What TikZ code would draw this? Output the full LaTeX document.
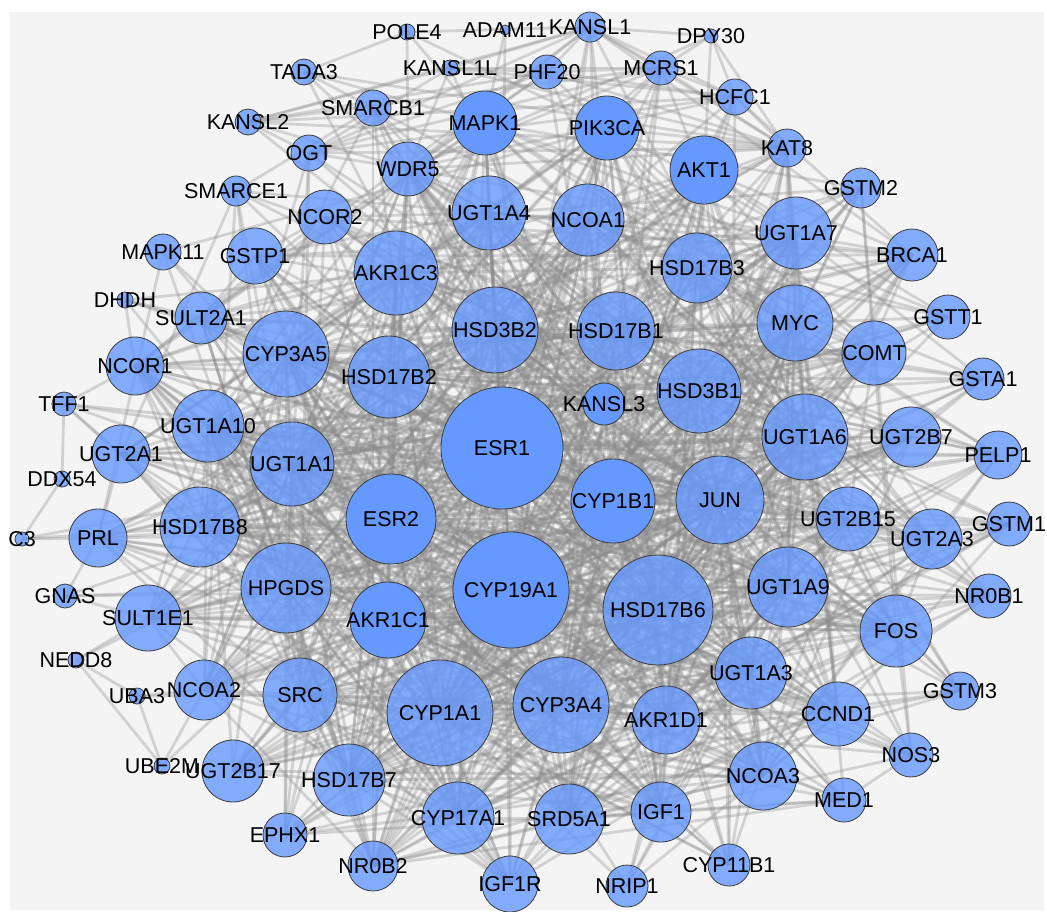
\documentclass[tikz,border=0pt]{standalone}
\usepackage{fontspec}
\setmainfont{Liberation Sans}
\pgfdeclarelayer{bg}
\pgfdeclarelayer{edges}
\pgfsetlayers{bg,edges,main}
\definecolor{nodeblue}{HTML}{6699FF}
\definecolor{nodeline}{HTML}{3C3C3C}
\definecolor{edgegray}{HTML}{8A8A8A}
\definecolor{panel}{HTML}{F4F4F4}
\tikzset{
  gene/.style={circle, draw=nodeline, line width=0.8pt, fill=nodeblue, inner sep=0pt},
  genelabel/.style={font=\fontsize{21.5}{21.5}\selectfont, inner sep=0pt, text=black},
  link/.style={draw=edgegray, line width=2.8pt, draw opacity=0.32},
}
\begin{document}
\begin{tikzpicture}[x=1pt,y=-1pt]
\useasboundingbox (0,0) rectangle (1047,911);
\begin{pgfonlayer}{bg}
\fill[white] (0,0) rectangle (1047,911);
\fill[panel] (10,12) rectangle (1044,910);
\end{pgfonlayer}
\def\genelist{ESR1/502/448/61/1, CYP19A1/511/590/58/1, HSD17B6/658/610/55/.8,
CYP1A1/440/713/53/.8, CYP3A4/561/705/48/.8, ESR2/391/519/45/1, HPGDS/286/588/45/.8,
JUN/720/500/44/.8, HSD3B2/495/330/43/.8, UGT1A6/805/437/43/.8, AKR1C3/396/273/42/.8,
UGT1A1/292/464/42/.8, CYP1B1/613/501/42/1, HSD3B1/699/391/42/.8, CYP3A5/286/354/43/.8,
HSD17B2/389/377/41/.8, HSD17B8/200/527/40/.8, UGT1A9/788/587/40/.8, HSD17B1/616/331/39/.8,
AKR1C1/388/620/38/1, MYC/795/323/38/.8, UGT1A4/489/213/37/.8, SRC/300/695/37/.8,
UGT1A10/208/426/36/.8, NCOA1/588/220/36/.8, UGT1A7/796/233/36/.8, UGT1A3/751/673/36/.8,
FOS/896/631/36/.8, HSD17B7/349/780/36/.8, CYP17A1/458/818/36/.8, HSD17B3/697/268/35/.8,
SRD5A1/569/819/35/.8, AKT1/704/170/34/1, AKR1D1/666/720/34/.8, NCOA3/763/776/34/.8,
SULT1E1/148/618/33/.8, MAPK1/485/123/32/1, PIK3CA/607/128/32/1, COMT/874/353/32/.8,
UGT2B15/848/519/32/.8, CCND1/838/714/32/.8, UGT2B17/233/771/31/.8, NCOA2/204/690/30/.8,
UGT2B7/911/437/30/.8, UGT2A3/932/539/30/.8, IGF1/661/812/30/.8, NCOR1/135/366/29/.8,
UGT2A1/121/454/29/.8, PRL/98/538/29/.8, GSTP1/255/256/28/.8, IGF1R/510/884/28/.8,
WDR5/408/169/27/.8, NCOR2/325/217/27/.8, SULT2A1/201/318/26/.8, BRCA1/912/255/26/.8,
NR0B2/373/866/25/.8, PELP1/998/455/24/.8, GSTT1/948/317/22/.8, GSTM1/1009/524/22/.8,
NR0B1/989/596/22/.8, NOS3/911/755/22/.8, MED1/844/800/22/.8, EPHX1/285/835/22/.8,
GSTA1/983/379/21/.8, KANSL3/604/404/21/1, NRIP1/627/886/21/.8, CYP11B1/729/865/21/.8,
GSTM2/861/188/20/.8, KAT8/787/148/19/.8, GSTM3/960/691/19/.8, MAPK11/163/252/18/.8,
SMARCB1/373/108/18/.8, OGT/309/153/18/.8, HCFC1/735/97/18/.8, PHF20/547/72/17/.8,
MCRS1/661/68/17/.8, KANSL1/590/27/15/.8, SMARCE1/236/191/15/.8, KANSL2/248/122/13/.8,
TADA3/304/72/13/.8, TFF1/64/404/12/.8, GNAS/65/596/12/.8, DHDH/125/300/8/.8,
DDX54/62/479/8/.8, POLE4/407/32/8/.8, KANSL1L/450/68/8/.8, NEDD8/76/660/8/.8,
UBA3/137/696/8/.8, UBE2M/162/766/8/.8, C3/22/539/7/.8, DPY30/711/36/7/.8, ADAM11/505/30/5/.8}
% circles
\foreach \n/\x/\y/\r/\s [count=\i] in \genelist {
  \node[gene, minimum size=2*\r, fill opacity=\s] (\n) at (\x,\y) {};
  \expandafter\xdef\csname gn\i\endcsname{\n}
  \expandafter\xdef\csname gx\i\endcsname{\x}
  \expandafter\xdef\csname gy\i\endcsname{\y}
  \expandafter\xdef\csname gr\i\endcsname{\r}
  \xdef\N{\i}
}
% labels
\foreach \n/\x/\y/\r/\s in \genelist {
  \node[genelabel] (\n-l) at (\n) {\n};
}
% connectors
\begin{pgfonlayer}{edges}
\pgfmathtruncatemacro\Nm{\N-1}
\foreach \i in {1,...,\Nm}{
  \pgfmathtruncatemacro\ii{\i+1}
  \foreach \j in {\ii,...,\N}{
    \edef\ri{\csname gr\i\endcsname}\edef\rj{\csname gr\j\endcsname}
    \ifdim\ri pt>13.5pt \ifdim\rj pt>13.5pt
      \edef\xi{\csname gx\i\endcsname}\edef\xj{\csname gx\j\endcsname}
      \edef\yi{\csname gy\i\endcsname}\edef\yj{\csname gy\j\endcsname}
      \pgfmathsetmacro\dd{veclen((\xi-\xj)/100,(\yi-\yj)/100)}
      \pgfmathsetmacro\pp{0.34*pow(\ri*\rj/900,2)*exp(-\dd/11)}
      \pgfmathsetmacro\hh{abs(sin(\i*37.3+\j*71.9))*997.13}
      \pgfmathsetmacro\hh{\hh-floor(\hh)}
      \ifdim\hh pt<\pp pt
        \edef\na{\csname gn\i\endcsname}\edef\nb{\csname gn\j\endcsname}
        \draw[link] (\na.center) -- (\nb.center);
      \fi
    \fi\fi
  }
}
\foreach \a/\b in {C3/PRL, C3/DDX54, C3/HSD17B8, C3/ESR1, DDX54/TFF1,
  TFF1/NCOR1, TFF1/UGT1A10, TFF1/ESR1, TFF1/HSD17B8, TFF1/ESR2, TFF1/UGT2A1,
  GNAS/PRL, GNAS/SULT1E1, GNAS/ESR1, GNAS/HPGDS, GNAS/CYP19A1,
  DHDH/SULT2A1, DHDH/AKR1C3, DHDH/AKR1C1, DHDH/CYP3A5, DHDH/HSD17B2, DHDH/NCOR1,
  NEDD8/UBA3, NEDD8/UBE2M, NEDD8/SULT1E1, NEDD8/ESR1,
  UBA3/UBE2M, UBA3/NCOA2, UBA3/SRC, UBE2M/NCOA2, UBE2M/ESR1,
  POLE4/WDR5, POLE4/TADA3, POLE4/KANSL1, POLE4/PIK3CA, POLE4/MAPK1,
  ADAM11/MAPK1, ADAM11/ESR1,
  DPY30/HCFC1, DPY30/MCRS1, DPY30/KANSL1, DPY30/WDR5, DPY30/KAT8, DPY30/AKT1,
  TADA3/WDR5, TADA3/KAT8, TADA3/ESR1, TADA3/MAPK1, TADA3/SMARCB1,
  KANSL2/KANSL1, KANSL2/KANSL1L, KANSL2/KANSL3, KANSL2/KAT8, KANSL2/WDR5,
  KANSL2/MCRS1, KANSL2/PHF20, KANSL2/OGT, KANSL2/HCFC1,
  KANSL1L/KANSL1, KANSL1L/KANSL3, KANSL1L/KAT8, KANSL1L/WDR5, KANSL1L/MCRS1,
  KANSL1L/PHF20, KANSL1L/HCFC1, KANSL1L/OGT,
  KANSL1/KANSL3, KANSL1/KAT8, KANSL1/WDR5, KANSL1/MCRS1, KANSL1/PHF20,
  KANSL1/HCFC1, KANSL1/OGT,
  KANSL3/KAT8, KANSL3/WDR5, KANSL3/MCRS1, KANSL3/PHF20, KANSL3/HCFC1, KANSL3/OGT,
  KAT8/WDR5, KAT8/MCRS1, KAT8/PHF20, KAT8/HCFC1, KAT8/OGT,
  WDR5/MCRS1, WDR5/PHF20, WDR5/HCFC1, WDR5/OGT,
  MCRS1/PHF20, MCRS1/HCFC1, MCRS1/OGT, PHF20/HCFC1, PHF20/OGT, HCFC1/OGT,
  SMARCB1/SMARCE1, SMARCB1/ESR1, SMARCE1/ESR1, SMARCB1/WDR5}
  \draw[link] (\a.center) -- (\b.center);
\end{pgfonlayer}
\end{tikzpicture}
\end{document}
